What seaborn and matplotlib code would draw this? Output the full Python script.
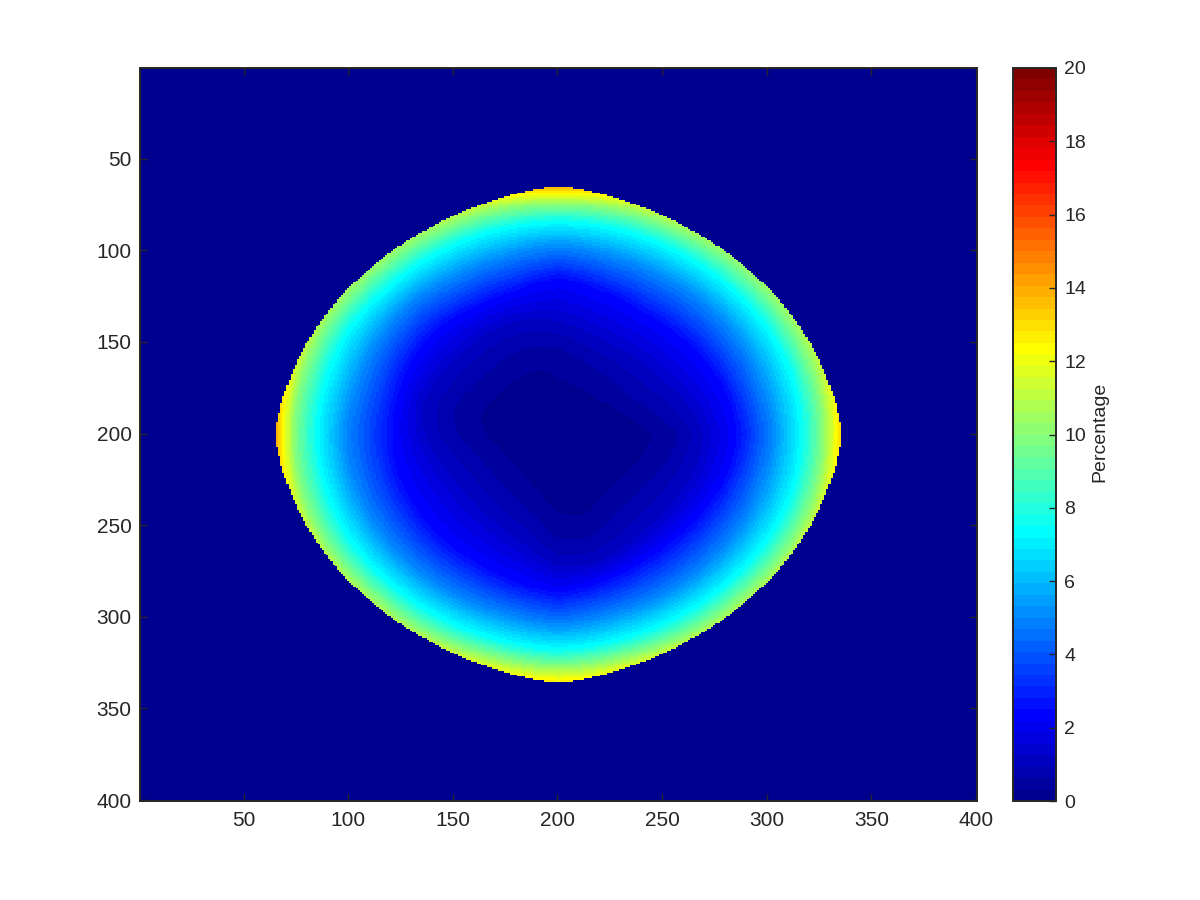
import numpy as np
import matplotlib
matplotlib.use("Agg")
import matplotlib.pyplot as plt
from matplotlib.colors import ListedColormap
import seaborn as sns

plt.rcParams['font.family'] = ['Liberation Sans', 'DejaVu Sans']
INK = '#262626'

# --- values -------------------------------------------------------------
GRID_SIZE = 400
CENTRE = 200.5
ANGLES = [0, 15, 30, 45, 60, 75, 90, 105, 120, 135, 150, 165,
          180, 195, 210, 225, 240, 255, 270, 285, 300, 315, 330, 345]
# outline of the lit region: radius at each angle
RADIUS_EDGE = [135.5, 131.5, 129, 127.8, 128.2, 131, 135.5, 131, 128.2, 127.8, 129, 131.5,
               135.5, 131.5, 129, 127.8, 128.2, 131, 135.5, 131, 128.2, 127.8, 129, 131.5]
# percentage found right on that outline
EDGE_VALUE = [13.4, 11.3, 10.6, 10.3, 10.6, 11.5, 14, 11.5, 10.6, 10.4, 10.7, 11.7,
              14.3, 11.7, 11, 10.8, 11, 11.8, 12.8, 11.8, 11, 10.8, 11, 11.5]
# inner contours: radius where the percentage reaches the level
RADIUS_0P31 = [44.5, 35, 29.4, 27, 26.7, 27.9, 30.4, 36.3, 36.2, 35.4, 37, 38.5,
               34.2, 29.1, 27, 26.9, 28.6, 33.2, 42.8, 45.6, 40, 37.9, 38.6, 42.1]
RADIUS_0P62 = [56.8, 47, 40, 39, 39.5, 42, 47, 50, 49, 48, 49, 52,
               48, 41, 38, 38, 40, 45, 57, 58, 52, 49, 50, 54]
RADIUS_0P94 = [64, 56, 50, 48, 48, 50, 55, 58, 58, 57, 58, 60,
               57, 50, 47, 47, 49, 54, 66, 66, 61, 58, 59, 61]
RADIUS_1P25 = [69, 64, 58, 56, 55, 57, 62, 65, 65, 64, 65, 67,
               64, 58, 55, 55, 57, 62, 72, 72, 68, 66, 66, 68]
# outer contours: depth inward from the outline where the percentage reaches the level
DEPTH_2P5 = [50, 48, 48, 49, 50, 50, 50, 50, 48, 46, 48, 52,
             56, 52, 50, 48, 48, 48, 49, 48, 48, 48, 48, 48]
DEPTH_5 = [33, 31, 29, 28, 29, 31, 33, 31, 29, 27, 29, 32,
           34, 31, 29, 28, 28, 30, 32, 30, 28, 28, 29, 31]
DEPTH_7P5 = [19, 15, 13, 12.5, 13, 15, 19, 15, 13, 13, 13, 16,
             19.5, 16, 13.5, 13, 13, 15, 18, 15, 13, 13, 13.5, 15]
DEPTH_10 = [9, 5, 2.5, 1.5, 2.5, 5, 10, 5, 2.5, 2, 2.5, 5,
            9, 5, 3, 3, 3, 6, 9, 6, 3, 3, 3, 5]
AXIS_TICKS = [50, 100, 150, 200, 250, 300, 350, 400]
BAR_TICKS = [0, 2, 4, 6, 8, 10, 12, 14, 16, 18, 20]
BAR_LABEL = 'Percentage'
VMAX = 20
# -------------------------------------------------------------------------

# Jet colour table with 64 steps, as in the reference
pos = [0, 7, 23, 39, 55, 63]
anchors = np.array([(0, 0, .5625), (0, 0, 1), (0, 1, 1), (1, 1, 0), (1, 0, 0), (.5, 0, 0)])
jet64 = ListedColormap(np.column_stack([np.interp(np.arange(64), pos, anchors[:, i]) for i in range(3)]))

# Turn the contour table into the cell matrix
rows, cols = np.mgrid[1:GRID_SIZE + 1, 1:GRID_SIZE + 1]
dx, dy = cols - CENTRE, CENTRE - rows
r = np.hypot(dx, dy)
theta = np.degrees(np.arctan2(dy, dx)) % 360


def around(values):
    return np.interp(theta, ANGLES + [360], list(values) + [values[0]])


edge = around(RADIUS_EDGE)
radii = [around(RADIUS_0P31), around(RADIUS_0P62), around(RADIUS_0P94), around(RADIUS_1P25),
         edge - around(DEPTH_2P5), edge - around(DEPTH_5), edge - around(DEPTH_7P5),
         edge - around(DEPTH_10), edge]
levels = [np.full(r.shape, v) for v in (0.32, 0.63, 0.94, 1.25, 2.5, 5, 7.5, 10)] + [around(EDGE_VALUE)]

matrix = np.zeros(r.shape)
matrix[r < radii[0]] = 0.15
for i in range(len(radii) - 1):
    m = (r >= radii[i]) & (r <= radii[i + 1])
    frac = (r[m] - radii[i][m]) / (radii[i + 1][m] - radii[i][m])
    matrix[m] = levels[i][m] + frac * (levels[i + 1][m] - levels[i][m])

fig = plt.figure(figsize=(12, 9), dpi=100)
ax = fig.add_axes([140 / 1200, 99 / 900, 837 / 1200, 733 / 900])
cax = fig.add_axes([1013 / 1200, 99 / 900, 43 / 1200, 733 / 900])

sns.heatmap(matrix, ax=ax, cbar_ax=cax, cmap=jet64, vmin=0, vmax=VMAX,
            square=False, xticklabels=False, yticklabels=False,
            cbar_kws={'ticks': BAR_TICKS}, rasterized=True)

ax.set_aspect('auto')
ax.set_position([140 / 1200, 99 / 900, 837 / 1200, 733 / 900])
ax.set_xticks([v - 0.5 for v in AXIS_TICKS], labels=[str(v) for v in AXIS_TICKS])
ax.set_yticks([v - 0.5 for v in AXIS_TICKS], labels=[str(v) for v in AXIS_TICKS], rotation=0)
ax.tick_params(axis='x', direction='in', length=5, width=1, color=INK, labelcolor=INK,
               labelsize=15, pad=7, top=True, bottom=True)
ax.tick_params(axis='y', direction='in', length=5, width=1, color=INK, labelcolor=INK,
               labelsize=15, pad=6, left=True, right=True)
for s in ax.spines.values():
    s.set_visible(True)
    s.set_linewidth(1.4)
    s.set_edgecolor(INK)

cbar = ax.collections[0].colorbar
cbar.ax.tick_params(direction='in', length=5, width=1, color=INK, labelcolor=INK,
                    labelsize=14, pad=6, right=True, left=False)
cbar.outline.set_visible(True)
cbar.outline.set_linewidth(1.4)
cbar.outline.set_edgecolor(INK)
cbar.set_label(BAR_LABEL, fontsize=14, color=INK, labelpad=4, y=0.504)

fig.savefig('out.png', dpi=100, facecolor='white')
